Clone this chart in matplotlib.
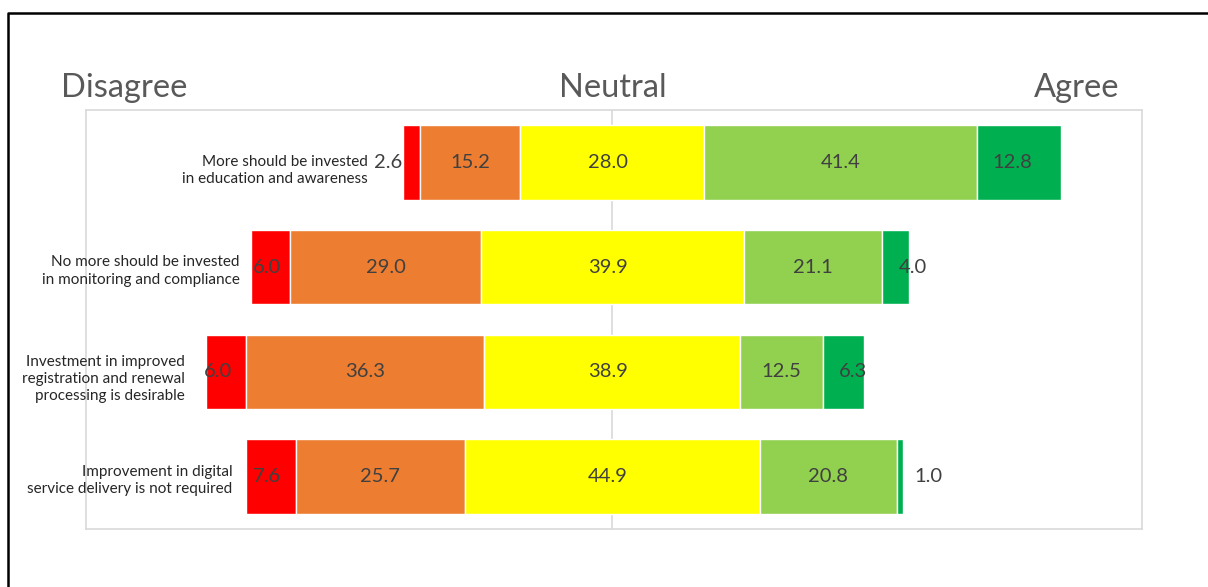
import matplotlib
matplotlib.use("Agg")
import matplotlib.pyplot as plt
from matplotlib.lines import Line2D
import numpy as np

# survey statements (top to bottom) and the share of answers (%)
categories = [
    "More should be invested\nin education and awareness",
    "No more should be invested\nin monitoring and compliance",
    "Investment in improved\nregistration and renewal\nprocessing is desirable",
    "Improvement in digital\nservice delivery is not required",
]
strongly_disagree = [2.6, 6.0, 6.0, 7.6]
disagree = [15.2, 29.0, 36.3, 25.7]
neutral = [28.0, 39.9, 38.9, 44.9]
agree = [41.4, 21.1, 12.5, 20.8]
strongly_agree = [12.8, 4.0, 6.3, 1.0]
scale_labels = ["Disagree", "Neutral", "Agree"]


def main():
    W, H = 1208, 587
    font = "Lato"
    colors = ["#FF0000", "#ED7D31", "#FFFF00", "#92D050", "#00B050"]
    label_color = "#404040"

    series = np.array([strongly_disagree, disagree, neutral, agree, strongly_agree])
    n = len(categories)
    ypos = np.arange(n)

    # bars are centred on the middle of the neutral block
    starts = -(series[2] / 2 + series[1] + series[0])
    lefts = starts + np.vstack([np.zeros(n), np.cumsum(series, axis=0)[:-1]])

    # small label shifts (data units) as in the original layout
    nudge = {(1, 0): -0.6, (2, 0): -1.2, (3, 0): -0.5, (0, 4): -1.0,
             (1, 4): 2.6, (2, 4): 1.4}
    cat_pad = [-35, -11, -21, -13]
    cat_drop = [-8, -4, -7, -4]

    fig = plt.figure(figsize=(W / 100, H / 100), dpi=100)
    ax = fig.add_axes([86 / W, 1 - 529 / H, (1142 - 86) / W, (529 - 110) / H])

    for k in range(5):
        ax.barh(ypos, series[k], left=lefts[k], height=0.71, color=colors[k],
                edgecolor="white", linewidth=1, zorder=3)

    for i in range(n):
        for k in range(5):
            val = series[k][i]
            if (i, k) == (0, 0):
                ax.text(lefts[k][i] - 0.1, i, f"{val:.1f}", ha="right", va="center",
                        fontsize=14.5, color=label_color, family=font, zorder=4)
                continue
            if (i, k) == (n - 1, 4):
                ax.text(lefts[k][i] + val + 1.7, i, f"{val:.1f}", ha="left", va="center",
                        fontsize=14.5, color=label_color, family=font, zorder=4)
                continue
            x = lefts[k][i] + val / 2 + nudge.get((i, k), 0)
            if k == 2:
                x -= 0.7
            ax.text(x, i, f"{val:.1f}", ha="center", va="center",
                    fontsize=14.5, color=label_color, family=font, zorder=4)

        # statement sits just left of its own bar
        ax.annotate(categories[i], xy=(lefts[0][i], i), xytext=(cat_pad[i], cat_drop[i]),
                    textcoords="offset pixels", ha="right", va="center",
                    multialignment="right", fontsize=11, color="#262626",
                    family=font, linespacing=1.3, zorder=4)

    ax.axvline(0, color="#d9d9d9", linewidth=1.2, zorder=1)
    ax.set_xlim(-80, 80.5)
    ax.set_ylim(n - 0.5, -0.5)
    ax.set_xticks([])
    ax.set_yticks([])
    for s in ax.spines.values():
        s.set_color("#d9d9d9")
        s.set_linewidth(1.2)

    ytxt = 1 - 97 / H
    fig.text(61 / W, ytxt, scale_labels[0], ha="left", va="baseline",
             fontsize=23.5, color="#595959", family=font)
    fig.text(613 / W, ytxt, scale_labels[1], ha="center", va="baseline",
             fontsize=23.5, color="#595959", family=font)
    fig.text(1119 / W, ytxt, scale_labels[2], ha="right", va="baseline",
             fontsize=23.5, color="#595959", family=font)

    # black frame around the picture (top and left edges visible)
    fig.add_artist(Line2D([8 / W, 8 / W, 1.0], [0, 1 - 12.5 / H, 1 - 12.5 / H],
                          transform=fig.transFigure, color="black", linewidth=1.8))

    fig.savefig("out.png", dpi=100)


if __name__ == "__main__":
    main()
